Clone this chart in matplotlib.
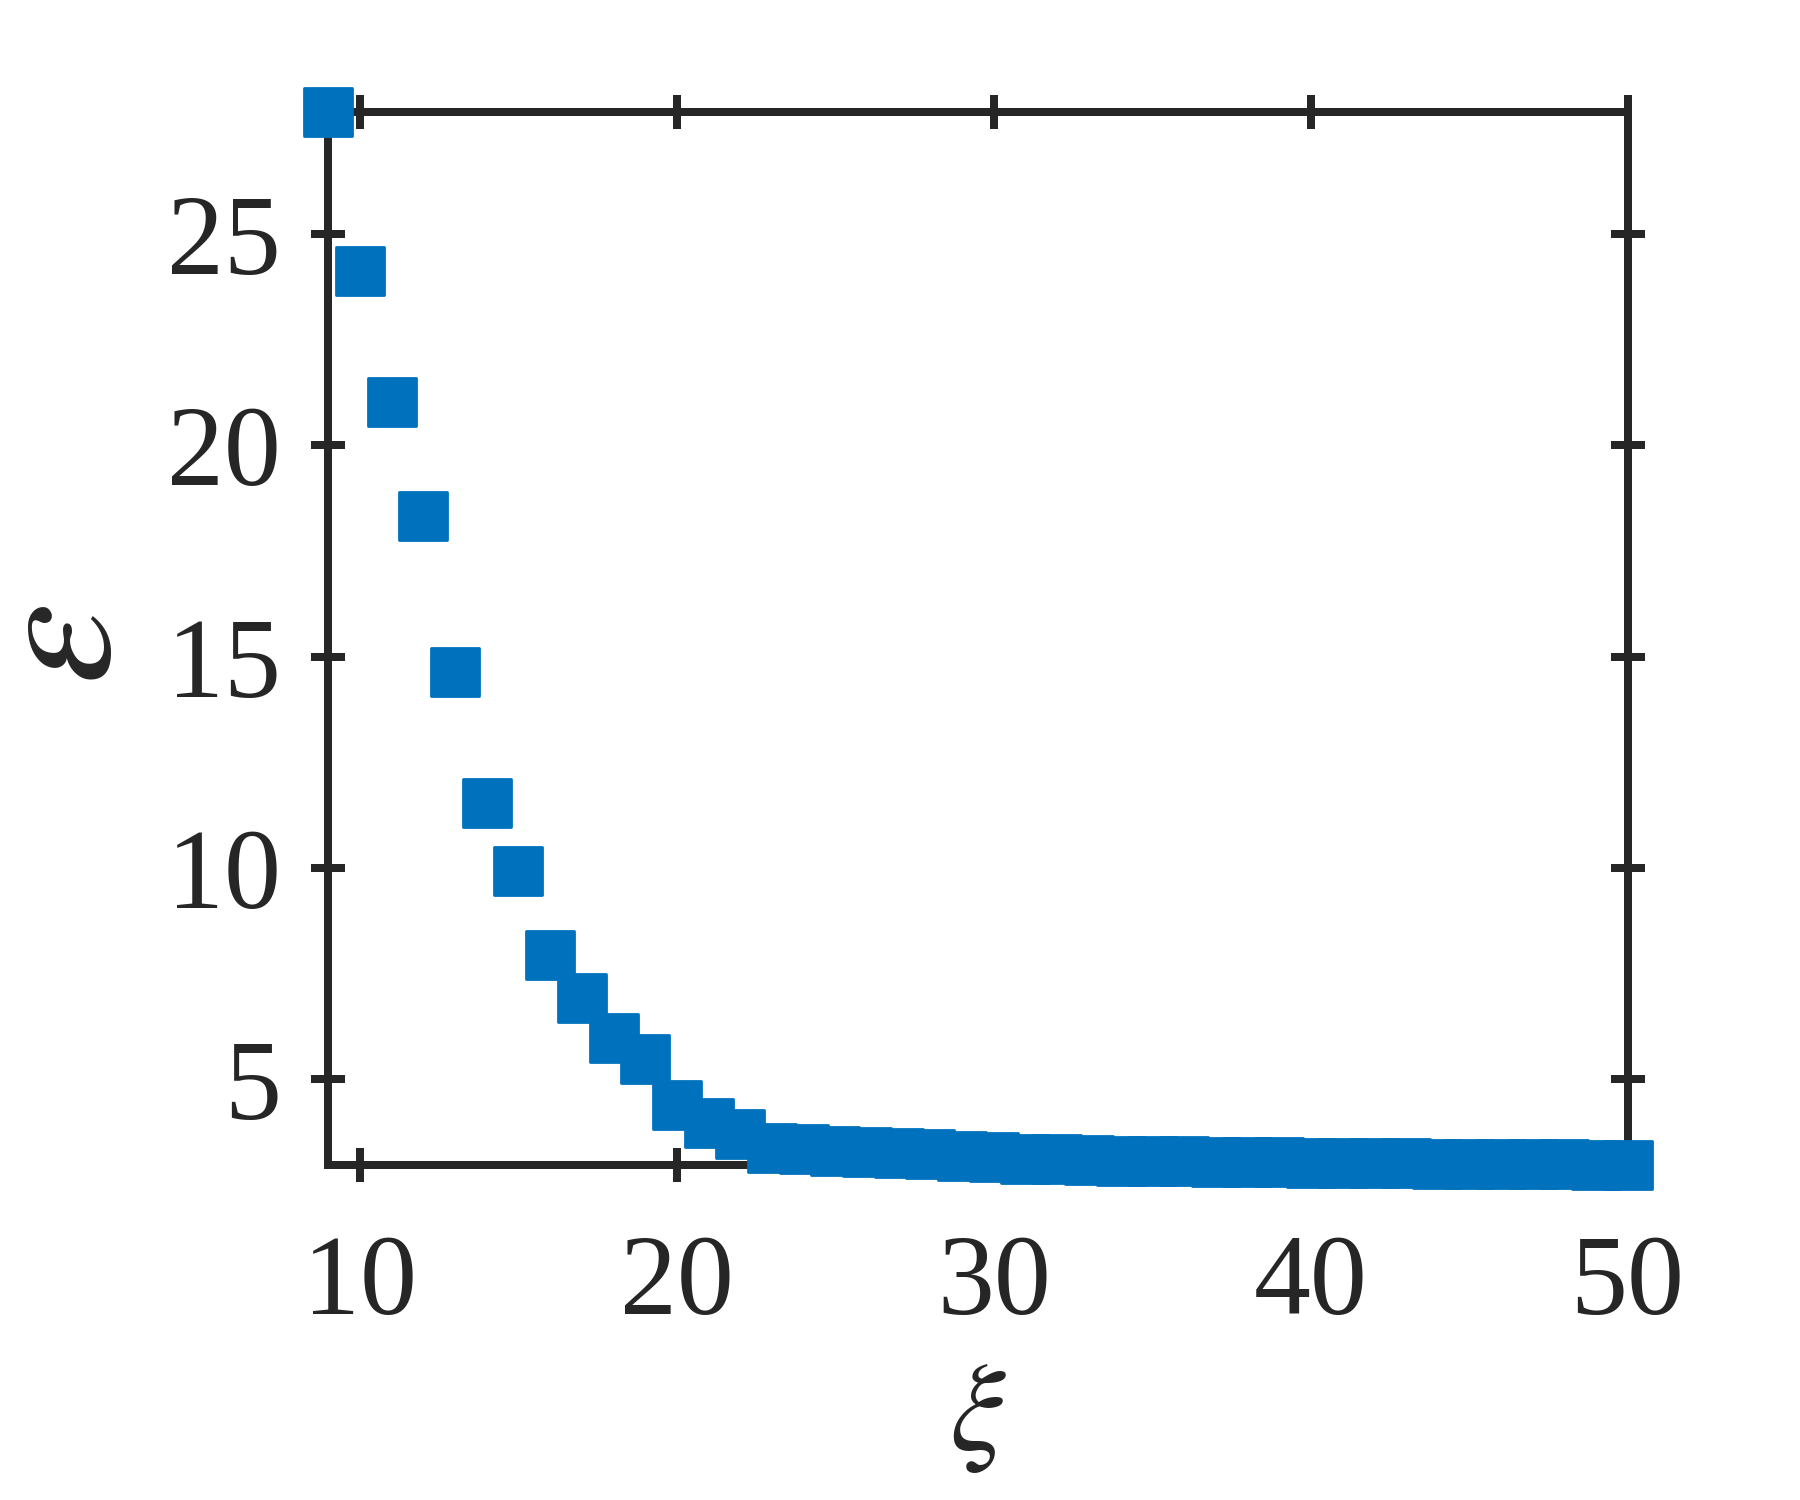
import matplotlib
matplotlib.use("Agg")
import matplotlib.pyplot as plt
from matplotlib.markers import MarkerStyle

# data
xi = [9, 10, 11, 12, 13, 14, 15, 16, 17, 18, 19, 20, 21, 22, 23, 24, 25, 26, 27, 28,
      29, 30, 31, 32, 33, 34, 35, 36, 37, 38, 39, 40, 41, 42, 43, 44, 45, 46, 47, 48,
      49, 50]
eps = [27.88, 24.13, 21.02, 18.32, 14.65, 11.54, 9.93, 7.94, 6.92, 5.97, 5.49, 4.39,
       3.98, 3.72, 3.39, 3.36, 3.32, 3.29, 3.25, 3.23, 3.19, 3.17, 3.13, 3.12, 3.10,
       3.08, 3.07, 3.06, 3.05, 3.04, 3.04, 3.03, 3.03, 3.02, 3.02, 3.01, 3.01, 3.01,
       3.00, 2.99, 2.98, 2.97]
xticks = [10, 20, 30, 40, 50]
yticks = [5, 10, 15, 20, 25]

axcol = "#262626"
blue = "#0072BD"

plt.rcParams["font.family"] = "serif"
plt.rcParams["font.serif"] = ["Liberation Serif", "DejaVu Serif"]
plt.rcParams["mathtext.fontset"] = "stix"

fig = plt.figure(figsize=(18, 15), dpi=100)
ax = fig.add_axes([328.3 / 1800, 1 - 1165.3 / 1500, (1627.6 - 328.3) / 1800,
                   (1165.3 - 112.3) / 1500])

ax.plot(xi, eps, linestyle="none", marker=MarkerStyle("s", joinstyle="round"),
        markersize=34.5, markerfacecolor=blue, markeredgecolor=blue,
        markeredgewidth=2.0, clip_on=False, zorder=3)

ax.set_xlim(min(xi), max(xi))
ax.set_ylim(min(eps), max(eps))
ax.set_xticks(xticks)
ax.set_yticks(yticks)
ax.set_xticklabels([str(t) for t in xticks])
ax.set_yticklabels([str(t) for t in yticks])

for s in ax.spines.values():
    s.set_linewidth(5.76)
    s.set_color(axcol)

ax.tick_params(axis="both", which="major", direction="inout", length=23.8,
               width=5.76, color=axcol, labelcolor=axcol, labelsize=82,
               top=True, right=True)
ax.tick_params(axis="x", pad=38)
ax.tick_params(axis="y", pad=22)

ax.set_xlabel(r"$\xi$", fontsize=90, color=axcol, labelpad=18)
ax.set_ylabel(r"$\varepsilon$", fontsize=132, color=axcol)
ax.yaxis.set_label_coords(-0.138, 0.494)

fig.savefig("out.png", dpi=100, facecolor="white")
